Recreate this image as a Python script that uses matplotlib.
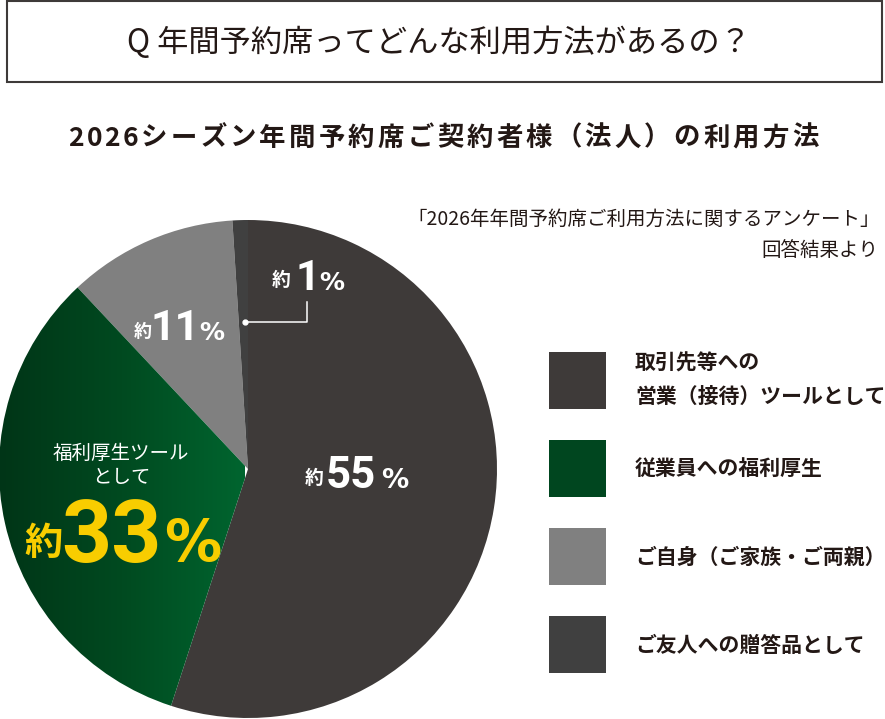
import numpy as np
import matplotlib
matplotlib.use("Agg")
import matplotlib.pyplot as plt
from matplotlib.patches import Rectangle
from matplotlib.colors import LinearSegmentedColormap

# data
labels = ["取引先等への\n営業（接待）ツールとして", "従業員への福利厚生",
          "ご自身（ご家族・ご両親）", "ご友人への贈答品として"]
shares = [55, 33, 11, 1]
colors = ["#3e3a39", "#00461f", "#808080", "#404040"]

title = "Q 年間予約席ってどんな利用方法があるの？"
subtitle = "2026シーズン年間予約席ご契約者様（法人）の利用方法"
note = ["「2026年年間予約席ご利用方法に関するアンケート」", "回答結果より"]

W, H = 885, 719
JP = ["Noto Sans CJK JP", "DejaVu Sans"]
TXT = "#231815"

fig = plt.figure(figsize=(W / 100, H / 100), dpi=100)
ax = fig.add_axes([0, 0, 1, 1])


def Y(y):
    # image coords (top-down) -> axes coords
    return H - y


def put(x, y, s, size, color="white", weight="bold", family=JP, ha="left", va="baseline", **kw):
    ax.text(x, Y(y), s, fontsize=size, color=color, fontweight=weight,
            family=family, ha=ha, va=va, **kw)


def spaced(x0, y, s, size, track, **kw):
    # one char at a time so the line gets the wide tracking of the original
    em = size * 100 / 72
    x = x0
    for ch in s:
        adv = em * (0.56 if ch.isascii() else 1.0)
        put(x + adv / 2, y, ch, size, ha="center", **kw)
        x += adv + track


# pie
cx, cy, r = 248, 469, 249
wedges, _ = ax.pie(shares, colors=colors, startangle=90, counterclock=False,
                   radius=r, center=(cx, Y(cy)), frame=True,
                   wedgeprops=dict(linewidth=0))

# green gradient, left dark -> right brighter
cmap = LinearSegmentedColormap.from_list("g", ["#003517", "#004a20", "#00652f"])
grad = np.linspace(0, 1, 256).reshape(1, -1)
wedges[1].set_facecolor("none")
im = ax.imshow(grad, cmap=cmap, extent=(0, 245, Y(cy + r), Y(cy - r)),
               aspect="auto", zorder=wedges[1].get_zorder())
im.set_clip_path(wedges[1])

ax.set_xlim(0, W)
ax.set_ylim(0, H)
ax.set_aspect("equal")
ax.axis("off")

# title box
ax.add_patch(Rectangle((7, Y(82)), 875, 81, fill=False, edgecolor="#3e3a39", linewidth=1.5))
put(439, 43, title, 22.5, color=TXT, weight="normal", ha="center", va="center")
spaced(69, 138, subtitle, 19, 3.2, color=TXT, weight="bold", va="center")
put(880, 219, note[0], 14, color=TXT, weight="normal", ha="right", va="center")
put(878, 251, note[1], 14, color=TXT, weight="normal", ha="right", va="center")

# slice labels
DIG = ["Roboto", "DejaVu Sans"]
PCT = ["DejaVu Sans"]

# 55%
put(305, 484, "約", 13.5)
put(326, 488, f"{shares[0]}", 31.5, family=DIG)
put(381, 488, "%", 19.5, family=PCT)

# 33%
put(121, 453, "福利厚生ツール", 14, weight="normal", ha="center", va="center")
put(121, 477, "として", 14, weight="normal", ha="center", va="center")
put(24, 555, "約", 27.5, color="#f8cd00")
put(61, 562, f"{shares[1]}", 63, color="#f8cd00", family=DIG)
put(164, 561, "%", 41, color="#f8cd00", family=PCT)

# 11%
put(134, 337, "約", 13)
put(175, 340, f"{shares[2]}", 31, family=DIG, ha="center")
put(199, 340, "%", 18, family=PCT)

# 1%
put(272, 286, "約", 13.5)
put(308, 290, f"{shares[3]}", 30.5, family=DIG, ha="center")
put(319, 290, "%", 18, family=PCT)

# connector for 1%
ax.plot([245, 307, 307], [Y(322), Y(322), Y(302)], color="white", linewidth=1.1)
ax.plot([245], [Y(322)], "o", color="white", markersize=3.5)

# legend
sq_tops = [352, 440, 528, 616]
text_y = [380, 468, 557, 645]
for top, ty, lab, col in zip(sq_tops, text_y, labels, colors):
    ax.add_patch(Rectangle((549, Y(top + 57)), 57, 57, facecolor=col, edgecolor="none"))
    ax.text(635, Y(ty), lab, fontsize=15, color=TXT, fontweight="bold", family=JP,
            ha="left", va="center", linespacing=1.75)

fig.savefig("out.png", dpi=100, facecolor="white")
